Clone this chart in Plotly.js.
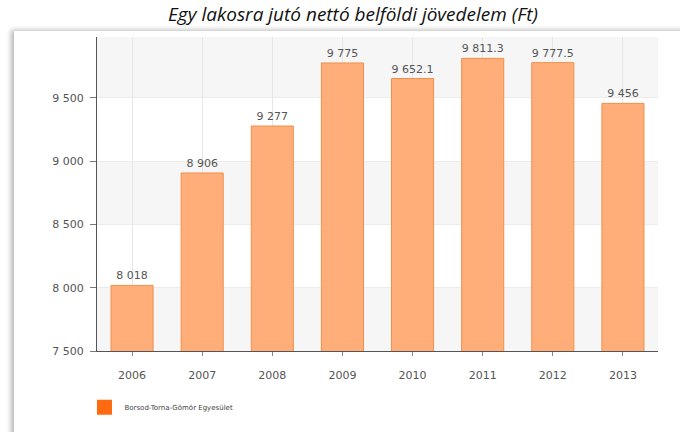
<!DOCTYPE html>
<html>
<head>
<meta charset="utf-8">
<script src="https://cdn.plot.ly/plotly-3.0.1.min.js"></script>
<style>
  html, body { margin: 0; padding: 0; background: #fff; }
  #card { position: absolute; left: 14px; top: 31px; width: 700px; height: 460px;
          background: #fff; box-shadow: -3px -1px 5px rgba(0,0,0,0.28); }
  #chart { position: absolute; left: 0; top: 0; width: 680px; height: 432px; }
</style>
</head>
<body>
<div id="card"></div>
<div id="chart"></div>
<script>
// years and values (Ft)
const years = ["2006", "2007", "2008", "2009", "2010", "2011", "2012", "2013"];
const values = [8018, 8906, 9277, 9775, 9652.1, 9811.3, 9777.5, 9456];
const seriesName = "Borsod-Torna-Gömör Egyesület";
const yTicks = [7500, 8000, 8500, 9000, 9500];

const grey = '#555';
const font = 'DejaVu Sans';

var bars = {
    x: years,
    y: values,
    type: 'bar',
    width: 0.6,
    marker: { color: '#ffae7a', line: { color: '#ef904c', width: 1 } },
    texttemplate: '%{y:,}',
    textposition: 'outside',
    cliponaxis: false,
    textfont: { family: font, size: 11, color: grey },
    showlegend: false,
    hoverinfo: 'x+y'
};

// legend swatch only
var legendItem = {
    x: [null],
    y: [null],
    type: 'scatter',
    mode: 'markers',
    name: seriesName,
    marker: { symbol: 'square', size: 15, color: '#ff6a10' }
};

// alternating light bands behind the bars
var bands = [[7500, 8000], [8500, 9000], [9500, 10000]].map(b => ({
    type: 'rect', xref: 'paper', yref: 'y', x0: 0, x1: 1, y0: b[0], y1: b[1],
    fillcolor: '#f6f6f6', line: { width: 0 }, layer: 'below'
}));

var layout = {
    width: 680,
    height: 432,
    margin: { l: 97, r: 22, t: 37, b: 80 },
    paper_bgcolor: 'rgba(0,0,0,0)',
    plot_bgcolor: 'rgba(0,0,0,0)',
    separators: '. ',
    title: {
        text: 'Egy lakosra jutó nettó belföldi jövedelem (Ft)',
        font: { family: 'Open Sans', size: 19, style: 'italic', color: '#111' },
        x: 353 / 680, xanchor: 'center',
        y: 1 - 14 / 432, yanchor: 'middle', yref: 'container'
    },
    xaxis: {
        type: 'category',
        range: [-0.5, 7.5],
        showgrid: true,
        gridcolor: '#e6e6e6',
        showline: true,
        linecolor: '#555',
        ticks: 'outside',
        ticklen: 4,
        tickcolor: '#888',
        ticklabelstandoff: 10,
        tickfont: { family: font, size: 11, color: grey },
        fixedrange: true
    },
    yaxis: {
        range: [7500, 9980],
        tickvals: yTicks,
        tickformat: ',d',
        showgrid: true,
        gridcolor: '#ececec',
        showline: true,
        linecolor: '#555',
        ticks: 'outside',
        ticklen: 6,
        tickcolor: '#777',
        ticklabelstandoff: 4,
        tickfont: { family: font, size: 11, color: grey },
        zeroline: false,
        fixedrange: true
    },
    shapes: bands,
    showlegend: true,
    legend: {
        x: -0.0223, xanchor: 'left',
        y: -0.175, yanchor: 'middle',
        font: { family: font, size: 7, color: '#444' },
        itemwidth: 30
    }
};

Plotly.newPlot('chart', [bars, legendItem], layout, { displayModeBar: false, staticPlot: true });
</script>
</body>
</html>
